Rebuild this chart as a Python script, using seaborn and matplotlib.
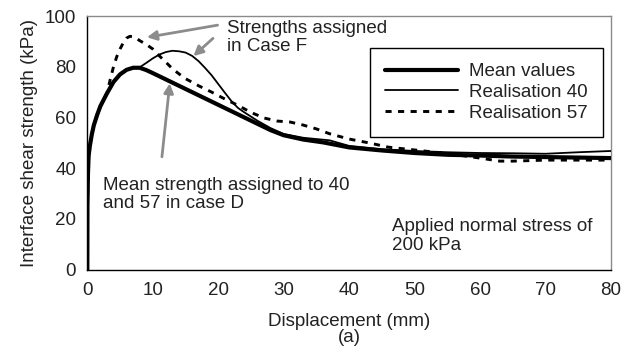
import matplotlib
matplotlib.use("Agg")
import matplotlib.pyplot as plt
import seaborn as sns
import pandas as pd
from matplotlib.lines import Line2D

# Shear stress-displacement curves (displacement in mm, strength in kPa)
mean_x = [0, 0.02, 0.1, 0.2, 0.4, 0.7, 1, 1.5, 2, 3, 4, 5, 6, 7, 8, 9, 10, 12, 14,
          16, 18, 20, 22, 24, 26, 28, 30, 33, 36, 40, 45, 50, 55, 60, 65, 70, 75, 80]
mean_y = [0, 25, 38, 45, 49, 53.5, 57, 61, 64.5, 69.5, 74, 77, 78.8, 79.6, 79.6, 78.7,
          77.5, 75, 72.5, 70, 67.5, 65, 62.5, 60, 57.5, 55, 53, 51.3, 50.2, 48.2, 47,
          46, 45.3, 45, 44.6, 44.4, 44.2, 44]

r40_x = [0, 0.02, 0.1, 0.2, 0.4, 0.7, 1, 1.5, 2, 3, 4, 5, 6, 7, 8, 9, 10, 11, 12, 13,
         14, 15, 16, 17, 18, 19, 20, 21, 22, 23, 24, 26, 28, 30, 33, 37, 40, 45, 50,
         55, 60, 65, 70, 75, 80]
r40_y = [0, 25, 38, 45, 49, 53.5, 57, 61, 64.5, 69.5, 74, 77, 78.8, 79.6, 79.8, 81.5,
         83.3, 84.8, 85.8, 86.3, 86.1, 85.6, 84.3, 82.2, 79.5, 76.6, 73.2, 69.8, 66.5,
         63.8, 62, 58.7, 55.8, 53.5, 52, 51, 48.8, 47.5, 46.8, 46.3, 46, 45.9, 45.7,
         46.3, 46.8]

r57_x = [0, 0.02, 0.1, 0.2, 0.4, 0.7, 1, 1.5, 2, 3, 3.5, 4, 4.5, 5, 5.5, 6, 6.5, 7,
         7.5, 8, 9, 10, 11, 12, 13, 14, 15, 17, 19, 21, 23, 25, 27, 29, 31, 33, 35,
         37, 40, 43, 46, 50, 55, 60, 63, 65, 70, 75, 80]
r57_y = [0, 25, 38, 45, 49, 53.5, 57, 61, 64.5, 69.5, 75, 80, 84, 87, 89.5, 91.3, 92,
         91.8, 91.2, 90.3, 88.8, 87, 84.3, 81.8, 79.2, 77.2, 75.3, 72.5, 70, 67.3,
         64.8, 62, 59.8, 58.6, 58.2, 57, 55.5, 53.6, 51.5, 50, 48.3, 47.2, 45.8, 44,
         42.8, 42.8, 43.2, 43.2, 43.2]

series_labels = ["Mean values", "Realisation 40", "Realisation 57"]
x_ticks = [0, 10, 20, 30, 40, 50, 60, 70, 80]
y_ticks = [0, 20, 40, 60, 80, 100]

FS = 13.5
sns.set_style("white")
plt.rcParams["font.family"] = ["Liberation Sans", "DejaVu Sans"]
plt.rcParams["font.size"] = FS
text_color = "#222222"
arrow_grey = "#8c8c8c"

fig = plt.figure(figsize=(6.36, 3.52), dpi=100)
ax = fig.add_axes([0.1373, 0.2338, 0.8234, 0.7207])

df_mean = pd.DataFrame({"x": mean_x, "y": mean_y})
df_40 = pd.DataFrame({"x": r40_x, "y": r40_y})
df_57 = pd.DataFrame({"x": r57_x, "y": r57_y})

dash57 = (0, (2.1, 2.2))
sns.lineplot(data=df_57, x="x", y="y", ax=ax, color="black", lw=2.1,
             linestyle=dash57, sort=False, zorder=3)
sns.lineplot(data=df_40, x="x", y="y", ax=ax, color="black", lw=1.3,
             sort=False, zorder=4)
sns.lineplot(data=df_mean, x="x", y="y", ax=ax, color="black", lw=3.0,
             sort=False, zorder=5)

ax.set_xlim(0, 80)
ax.set_ylim(0, 100)
ax.set_xticks(x_ticks)
ax.set_yticks(y_ticks)
ax.tick_params(axis="both", direction="out", length=4, width=1, color="black",
               labelsize=FS, labelcolor=text_color, pad=4)
ax.tick_params(axis="x", pad=5)
ax.tick_params(top=False, right=False)

for side in ["left", "bottom"]:
    ax.spines[side].set_color("black")
    ax.spines[side].set_linewidth(1.0)
for side in ["top", "right"]:
    ax.spines[side].set_color("#8a8a8a")
    ax.spines[side].set_linewidth(1.0)

ax.set_xlabel("Displacement (mm)", fontsize=FS, color=text_color, labelpad=10)
ax.set_ylabel("Interface shear strength (kPa)", fontsize=FS, color=text_color,
              labelpad=5)
fig.text(0.5487, 0.041, "(a)", ha="center", va="center", fontsize=FS,
         color=text_color)

handles = [
    Line2D([], [], color="black", lw=3.0),
    Line2D([], [], color="black", lw=1.3),
    Line2D([], [], color="black", lw=2.1, linestyle=dash57),
]
leg = ax.legend(handles, series_labels, loc="upper right",
                bbox_to_anchor=(0.985, 0.874), borderaxespad=0, frameon=True,
                fancybox=False, edgecolor="black", framealpha=1,
                fontsize=FS, handlelength=3.9, handletextpad=0.6,
                labelspacing=0.2, borderpad=0.8)
leg.get_frame().set_linewidth(1.0)
for t in leg.get_texts():
    t.set_color(text_color)

arrow_kw = dict(arrowstyle="-|>", color=arrow_grey, lw=2.0, mutation_scale=14,
                shrinkA=0, shrinkB=0)
ax.annotate("", xy=(9.1, 91.6), xytext=(19.9, 96.4), arrowprops=arrow_kw)
ax.annotate("", xy=(16.2, 84.2), xytext=(19.2, 91.2), arrowprops=arrow_kw)
ax.annotate("", xy=(12.6, 73.5), xytext=(11.4, 44.5), arrowprops=arrow_kw)

ax.text(21.3, 91.6, "Strengths assigned\nin Case F", ha="left", va="center",
        fontsize=FS, color=text_color, linespacing=1.1)
ax.text(2.45, 29.6, "Mean strength assigned to 40\nand 57 in case D", ha="left",
        va="center", fontsize=FS, color=text_color, linespacing=1.1)
ax.text(46.5, 13.3, "Applied normal stress of\n200 kPa", ha="left", va="center",
        fontsize=FS, color=text_color, linespacing=1.1)

fig.savefig("out.png", dpi=100)
